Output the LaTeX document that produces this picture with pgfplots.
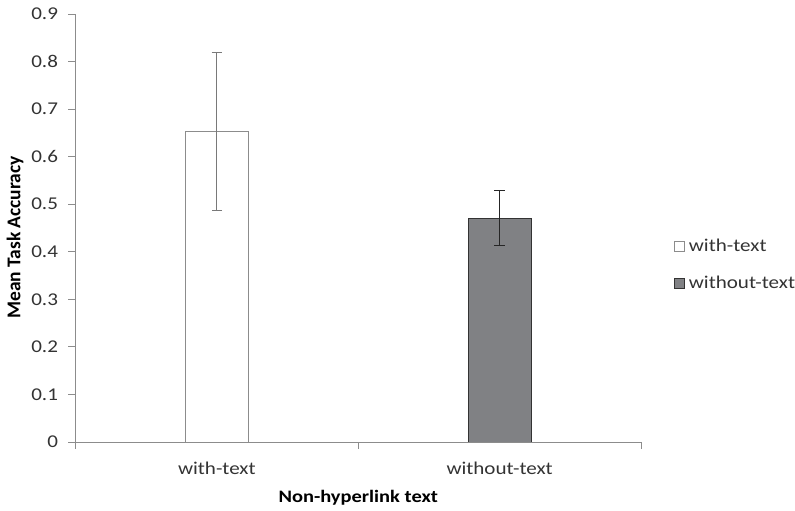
\documentclass[border=0pt]{standalone}
\usepackage{fontspec}
\setmainfont{Carlito}[FakeStretch=1.17]
\newfontfamily\ylabfont{Carlito}
\usepackage{pgfplots}
\pgfplotsset{compat=1.18}
\definecolor{axgray}{HTML}{8C8C8C}
\definecolor{txt}{HTML}{333333}
\definecolor{barfill}{HTML}{808184}
\begin{document}
\begin{tikzpicture}
\useasboundingbox (-75.5pt,-69pt) rectangle (719.5pt,442pt);
\begin{axis}[
  at={(0,0)}, anchor=south west,
  scale only axis, width=565.5pt, height=428pt,
  xmin=-0.5, xmax=1.5, ymin=0, ymax=0.9,
  axis lines*=left,
  axis line style={axgray, line width=0.9pt},
  tick align=outside,
  major tick length=7pt, minor tick length=7pt,
  every tick/.style={axgray, line width=0.9pt},
  xtick={0,1}, xticklabels={with-text,without-text},
  major x tick style={draw=none},
  minor xtick={-0.5,0.5,1.5},
  ytick={0,0.1,0.2,0.3,0.4,0.5,0.6,0.7,0.8,0.9},
  yticklabels={0,0.1,0.2,0.3,0.4,0.5,0.6,0.7,0.8,0.9},
  ticklabel style={font=\fontsize{18}{21}\selectfont, text=txt},
  yticklabel style={xshift=-7pt},
  xticklabel style={yshift=-9pt},
  xlabel={Non-hyperlink text},
  ylabel={\fontsize{19.5}{22}\selectfont\ylabfont\bfseries Mean Task Accuracy},
  xlabel style={at={(axis description cs:0.5,0)}, anchor=center, yshift=-56pt, font=\fontsize{17.5}{20}\selectfont\bfseries, text=black},
  ylabel style={at={(axis description cs:0,0.478)}, anchor=center, yshift=60.5pt, text=black},
  ybar, bar width=63pt, bar shift=0pt,
  legend image code/.code={\draw[#1] (0pt,-5pt) rectangle (10pt,5pt);},
  legend style={at={(1.058,0.414)}, anchor=west, draw=none, fill=none, inner sep=0pt,
    font=\fontsize{18}{21}\selectfont, text=txt, row sep=19pt,
    nodes={inner xsep=4pt}},
  legend cell align=left,
]
\addplot[draw=axgray, line width=0.9pt, fill=white,
  error bars/.cd, y dir=both, y explicit,
  error bar style={color=gray!95!black, line width=0.9pt},
  error mark options={rotate=90, mark size=5.3pt, line width=0.9pt, color=gray!95!black}]
  coordinates {(0,0.653) +- (0,0.167)};
\addlegendentry{with-text}
\addplot[draw=black!80, line width=0.9pt, fill=barfill,
  error bars/.cd, y dir=both, y explicit,
  error bar style={color=black!85, line width=0.9pt},
  error mark options={rotate=90, mark size=5.3pt, line width=0.9pt, color=black!85}]
  coordinates {(1,0.471) +- (0,0.058)};
\addlegendentry{without-text}
\end{axis}
\end{tikzpicture}
\end{document}
